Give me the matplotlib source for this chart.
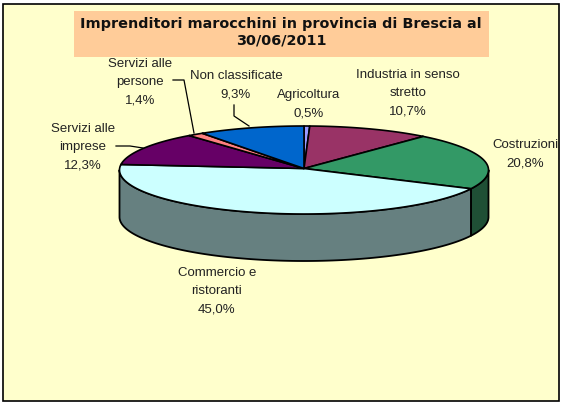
import numpy as np
import matplotlib
matplotlib.use("Agg")
from matplotlib import pyplot as plt
from matplotlib.patches import Polygon, Rectangle

categories = ["Agricoltura", "Industria in senso\nstretto", "Costruzioni", "Commercio e\nristoranti",
              "Servizi alle\nimprese", "Servizi alle\npersone", "Non classificate"]
values = [0.5, 10.7, 20.8, 45.0, 12.3, 1.4, 9.3]
top_colors = ["#9999FF", "#993366", "#339966", "#CCFFFF", "#660066", "#FF8080", "#0066CC"]
side_colors = ["#4D4D80", "#4D1A33", "#1F4F35", "#668080", "#330033", "#804040", "#003366"]
title = "Imprenditori marocchini in provincia di Brescia al\n30/06/2011"

label_pos = [(309, 104), (408, 93), (525, 154), (217, 291), (83, 147), (140, 82), (236, 85)]
leaders = [[(173, 80), (184, 80), (194, 133)],
           [(116, 146), (130, 146), (143, 148)],
           [(234, 105), (234, 116), (249, 126)]]

cx, cy = 304, 170
rx, ry = 184.5, 44
depth = 47


def arc(a, b):
    t = np.radians(np.linspace(a, b, 200))
    return cx + rx * np.sin(t), cy - ry * np.cos(t)


fig = plt.figure(figsize=(5.61, 4.03), dpi=100, facecolor="white")
ax = fig.add_axes([0, 0, 1, 1])
ax.set_xlim(0, 561)
ax.set_ylim(403, 0)
ax.axis("off")

ax.add_patch(Rectangle((3.5, 3.5), 555.5, 397.5, fc="#FFFFCC", ec="black", lw=1.2))
ax.add_patch(Rectangle((74, 11), 415, 46, fc="#FFCC99", ec="none"))
ax.text(281, 32.5, title, ha="center", va="center", fontsize=10.4, fontweight="bold",
        family="DejaVu Sans", color="#111111", linespacing=1.25)

edges = np.cumsum([0] + values) / 100 * 360

# walls first, only the part of the rim that faces the viewer
for i in range(len(values)):
    a, b = max(edges[i], 90), min(edges[i + 1], 270)
    if a >= b:
        continue
    x, y = arc(a, b)
    pts = list(zip(x, y)) + list(zip(x[::-1], y[::-1] + depth))
    ax.add_patch(Polygon(pts, closed=True, fc=side_colors[i], ec="black", lw=1.3, joinstyle="round"))

for i in range(len(values)):
    x, y = arc(edges[i], edges[i + 1])
    pts = [(cx, cy - 1.5)] + list(zip(x, y))
    ax.add_patch(Polygon(pts, closed=True, fc=top_colors[i], ec="black", lw=1.2, joinstyle="round"))

for line in leaders:
    xs, ys = zip(*line)
    ax.plot(xs, ys, color="black", lw=0.9)

for name, val, (lx, ly) in zip(categories, values, label_pos):
    txt = name + "\n" + f"{val:.1f}%".replace(".", ",")
    ax.text(lx, ly, txt, ha="center", va="center", fontsize=9.5, family="Liberation Sans",
            color="#222222", linespacing=1.68)

fig.savefig("out.png", dpi=100)
